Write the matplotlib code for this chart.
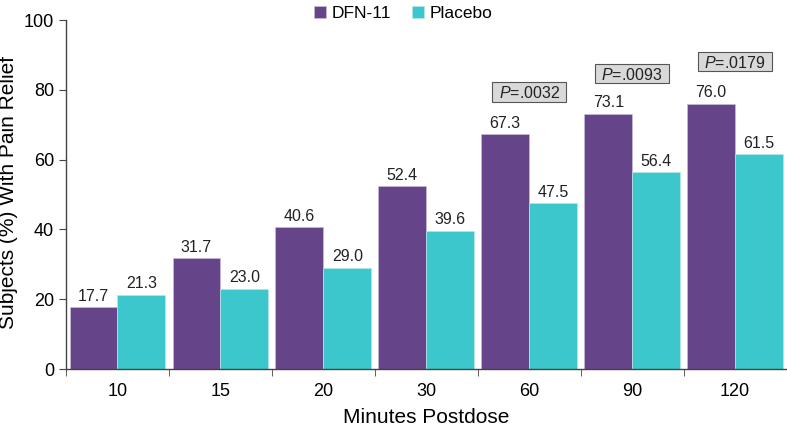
import matplotlib
matplotlib.use("Agg")
import matplotlib.pyplot as plt
from matplotlib.patches import Rectangle
import numpy as np

plt.rcParams['font.family'] = ['Liberation Sans', 'DejaVu Sans']
plt.rcParams['mathtext.fontset'] = 'custom'
plt.rcParams['mathtext.it'] = 'Liberation Sans:italic'
plt.rcParams['mathtext.rm'] = 'Liberation Sans'

categories = ["10", "15", "20", "30", "60", "90", "120"]
dfn11 = [17.7, 31.7, 40.6, 52.4, 67.3, 73.1, 76.0]
placebo = [21.3, 23.0, 29.0, 39.6, 47.5, 56.4, 61.5]
pvals = {"60": ".0032", "90": ".0093", "120": ".0179"}
pval_y = {"60": 79.4, "90": 84.7, "120": 88.0}

purple = "#654489"
cyan = "#3CC7CC"

fig = plt.figure(figsize=(7.87, 4.26), dpi=100)
ax = fig.add_axes([0.0839, 0.1338, 0.9155, 0.8192])

x = np.arange(len(categories))
w = 0.465
ax.bar(x - w/2, dfn11, w, color=purple, edgecolor="#c8bcd8", linewidth=0.5, label="DFN-11")
ax.bar(x + w/2, placebo, w, color=cyan, edgecolor="#b9e6e8", linewidth=0.5, label="Placebo")

for i in range(len(categories)):
    ax.text(x[i] - w/2, dfn11[i] + 1.0, f"{dfn11[i]:.1f}", ha="center", va="bottom", fontsize=11.5, color="#222222")
    ax.text(x[i] + w/2, placebo[i] + 1.0, f"{placebo[i]:.1f}", ha="center", va="bottom", fontsize=11.5, color="#222222")

box_w = 0.72
box_h = 5.5
for i, c in enumerate(categories):
    if c in pvals:
        ax.add_patch(Rectangle((x[i] - box_w/2, pval_y[c] - box_h/2), box_w, box_h,
                               facecolor="#d9d9d9", edgecolor="#555555", linewidth=0.8, zorder=3))
        ax.text(x[i], pval_y[c], r"$\it{P}$" + "=" + pvals[c], ha="center", va="center_baseline", fontsize=11.5,
                color="#222222", zorder=4)

ax.set_xlim(-0.5, len(categories) - 0.5)
ax.set_ylim(0, 100)
ax.set_yticks([0, 20, 40, 60, 80, 100])
ax.set_xticks(x)
ax.set_xticklabels(categories)
ax.set_xticks(np.arange(len(categories) + 1) - 0.5, minor=True)
ax.tick_params(axis="x", which="major", length=0, labelsize=13, pad=10)
ax.tick_params(axis="x", which="minor", length=5, direction="out", color="#444444")
ax.tick_params(axis="y", length=5, direction="out", labelsize=13, color="#444444")
for s in ["top", "right"]:
    ax.spines[s].set_visible(False)
for s in ["left", "bottom"]:
    ax.spines[s].set_color("#444444")
    ax.spines[s].set_linewidth(1)

ax.set_ylabel("Subjects (%) With Pain Relief", fontsize=15)
ax.yaxis.set_label_coords(-0.067, 0.507)
ax.set_xlabel("Minutes Postdose", fontsize=15, labelpad=6)

ax.legend(loc="upper center", bbox_to_anchor=(0.468, 1.085), ncol=2, frameon=False, fontsize=12.5,
          handlelength=0.7, handleheight=0.7, handletextpad=0.3, columnspacing=1.2)

fig.savefig("out.png", dpi=100)
